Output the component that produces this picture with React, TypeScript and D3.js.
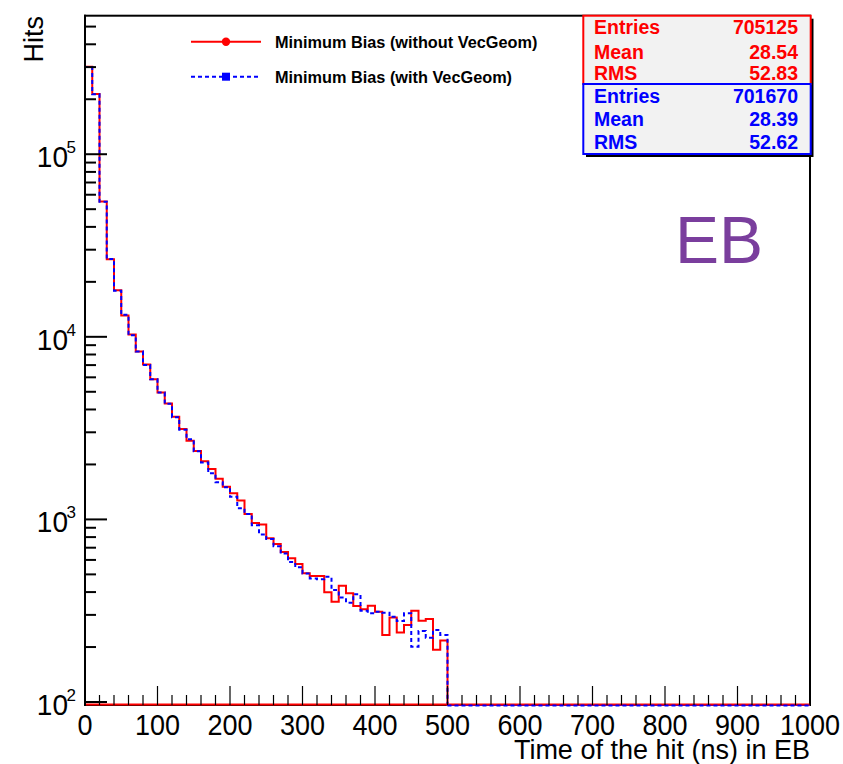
import React, { useRef, useEffect } from "react";
import * as d3 from "d3";

// hits per 10 ns bin, 0-500 ns (bins above 500 ns are empty)
const redCounts = [
  301000, 214000, 55100, 26600, 18000, 13100, 10300, 8320, 7060, 5850,
  4960, 4320, 3650, 3130, 2700, 2370, 2080, 1890, 1670, 1510,
  1390, 1270, 1070, 955, 937, 788, 733, 663, 612, 570,
  507, 490, 490, 399, 354, 433, 394, 336, 322, 337,
  312, 233, 290, 240, 264, 316, 279, 285, 193, 217,
];
const blueCounts = [
  300000, 213000, 55000, 26700, 17900, 13200, 10200, 8300, 7000, 5850,
  4950, 4300, 3630, 3100, 2750, 2360, 2050, 1790, 1600, 1500,
  1330, 1150, 1070, 930, 828, 780, 714, 650, 584, 547,
  505, 475, 470, 485, 410, 373, 350, 389, 316, 306,
  312, 308, 293, 278, 306, 201, 245, 225, 248, 233,
];
const binWidth = 10;
const xTickLabels = ["0", "100", "200", "300", "400", "500", "600", "700", "800", "900", "1000"];
const yDecades = [2, 3, 4, 5];
const legendLabels = ["Minimum Bias (without VecGeom)", "Minimum Bias (with VecGeom)"];
const statNames = ["Entries", "Mean", "RMS"];
const redStats = ["705125", "28.54", "52.83"];
const blueStats = ["701670", "28.39", "52.62"];

const FONT = "'Liberation Sans', Arial, Helvetica, sans-serif";

function HitTimeChart() {
  const svgRef = useRef<SVGSVGElement | null>(null);

  useEffect(() => {
    const svg = d3.select(svgRef.current);
    svg.selectAll("*").remove();

    const left = 85, right = 810, top = 15.7, bottom = 705;
    const x = d3.scaleLinear().domain([0, 1000]).range([left, right]);
    const y = d3.scaleLog().domain([96.3, 5.736e5]).range([bottom, top]).clamp(true);
    const yv = (v: number) => (v > 0 ? y(v) : bottom);

    svg.append("rect").attr("width", 843).attr("height", 764).attr("fill", "white");
    svg.append("rect")
      .attr("x", left).attr("y", top)
      .attr("width", right - left).attr("height", bottom - top)
      .attr("fill", "white").attr("stroke", "black").attr("stroke-width", 2);

    // histograms as step lines
    const stepPath = (counts: number[]) => {
      const pts: [number, number][] = [[x(0), bottom]];
      counts.forEach((c, i) => pts.push([x(i * binWidth), yv(c)]));
      pts.push([x(counts.length * binWidth), bottom]);
      pts.push([x(1000), bottom]);
      return d3.line().curve(d3.curveStepAfter)(pts);
    };

    svg.append("path")
      .attr("d", stepPath(redCounts))
      .attr("fill", "none").attr("stroke", "#ff0000").attr("stroke-width", 2);
    svg.append("path")
      .attr("d", stepPath(blueCounts))
      .attr("fill", "none").attr("stroke", "#0000ff").attr("stroke-width", 2)
      .attr("stroke-dasharray", "4,3");

    // red line along the bottom of the frame
    svg.append("line")
      .attr("x1", left).attr("x2", right).attr("y1", bottom - 0.5).attr("y2", bottom - 0.5)
      .attr("stroke", "#ff0000").attr("stroke-width", 2);
    svg.append("line")
      .attr("x1", x(500)).attr("x2", right).attr("y1", bottom + 0.5).attr("y2", bottom + 0.5)
      .attr("stroke", "#0000ff").attr("stroke-width", 2).attr("stroke-dasharray", "4,3");

    // x axis ticks
    const ax = svg.append("g").attr("stroke", "black").attr("stroke-width", 1.2);
    d3.range(0, 1001, 20).forEach((t) => {
      const major = t % 100 === 0;
      ax.append("line")
        .attr("x1", x(t)).attr("x2", x(t))
        .attr("y1", bottom).attr("y2", bottom - (major ? 19 : 10));
    });
    // y axis ticks
    yDecades.forEach((d) => {
      for (let k = 1; k <= 9; k++) {
        const v = k * Math.pow(10, d);
        if (v < y.domain()[0] || v > y.domain()[1]) continue;
        ax.append("line")
          .attr("x1", left).attr("x2", left + (k === 1 ? 22 : 11))
          .attr("y1", y(v)).attr("y2", y(v))
          .attr("stroke-width", 2);
      }
    });
    svg.append("line")
      .attr("x1", left).attr("x2", left).attr("y1", top - 1).attr("y2", bottom + 1)
      .attr("stroke", "black").attr("stroke-width", 2);

    // tick labels (a bit condensed, as in the original)
    xTickLabels.forEach((lab) => {
      svg.append("text")
        .attr("transform", `translate(${x(+lab)},735) scale(0.9,1)`)
        .attr("text-anchor", "middle")
        .attr("font-family", FONT).attr("font-size", 30)
        .text(lab);
    });
    yDecades.forEach((d) => {
      const ty = y(Math.pow(10, d));
      svg.append("text")
        .attr("transform", `translate(68,${ty + 13}) scale(0.95,1)`)
        .attr("text-anchor", "end")
        .attr("font-family", FONT).attr("font-size", 29.5)
        .text("10");
      svg.append("text")
        .attr("x", 66.5).attr("y", ty - 1)
        .attr("font-family", FONT).attr("font-size", 17)
        .text(String(d));
    });

    // axis titles
    svg.append("text")
      .attr("x", right).attr("y", 759)
      .attr("text-anchor", "end")
      .attr("font-family", FONT).attr("font-size", 27)
      .text("Time of the hit (ns) in EB");
    svg.append("text")
      .attr("transform", "translate(43,16) rotate(-90)")
      .attr("text-anchor", "end")
      .attr("font-family", FONT).attr("font-size", 27)
      .text("Hits");

    // EB label
    svg.append("text")
      .attr("x", 675).attr("y", 263)
      .attr("font-family", FONT).attr("font-size", 66)
      .attr("fill", "#7a3e9d")
      .text("EB");

    // legend
    const legY = [41.7, 76.7];
    legendLabels.forEach((lab, i) => {
      const col = i === 0 ? "#ff0000" : "#0000ff";
      svg.append("line")
        .attr("x1", 191).attr("x2", 261).attr("y1", legY[i]).attr("y2", legY[i])
        .attr("stroke", col).attr("stroke-width", 2)
        .attr("stroke-dasharray", i === 0 ? null : "4,3");
      if (i === 0) {
        svg.append("circle").attr("cx", 226).attr("cy", legY[i]).attr("r", 4.2).attr("fill", col);
      } else {
        svg.append("rect").attr("x", 222).attr("y", legY[i] - 4).attr("width", 8).attr("height", 8).attr("fill", col);
      }
      svg.append("text")
        .attr("x", 275).attr("y", legY[i] + 6)
        .attr("font-family", FONT).attr("font-size", 16.3).attr("font-weight", "bold")
        .text(lab);
    });

    // stats boxes
    const boxes = [
      { y0: 15.7, y1: 84, col: "#ff0000", vals: redStats, base: [33.5, 58.5, 80] },
      { y0: 84, y1: 154, col: "#0000ff", vals: blueStats, base: [103, 125.5, 149] },
    ];
    boxes.forEach((b) => {
      svg.append("rect")
        .attr("x", 586).attr("y", b.y0 + 3)
        .attr("width", 227.5).attr("height", b.y1 - b.y0)
        .attr("fill", "black");
    });
    boxes.forEach((b) => {
      svg.append("rect")
        .attr("x", 583.3).attr("y", b.y0)
        .attr("width", 227.4).attr("height", b.y1 - b.y0)
        .attr("fill", "#f2f2f2").attr("stroke", b.col).attr("stroke-width", 2);
      statNames.forEach((n, j) => {
        svg.append("text")
          .attr("x", 594).attr("y", b.base[j])
          .attr("font-family", FONT).attr("font-size", 19.5).attr("font-weight", "bold")
          .attr("fill", b.col).text(n);
        svg.append("text")
          .attr("x", 798).attr("y", b.base[j])
          .attr("text-anchor", "end")
          .attr("font-family", FONT).attr("font-size", 19.5).attr("font-weight", "bold")
          .attr("fill", b.col).text(b.vals[j]);
      });
    });
  }, []);

  return (
    <svg
      ref={svgRef}
      width={843}
      height={764}
      style={{ position: "absolute", left: 0, top: 0 }}
    />
  );
}

export default function App() {
  return <HitTimeChart />;
}
